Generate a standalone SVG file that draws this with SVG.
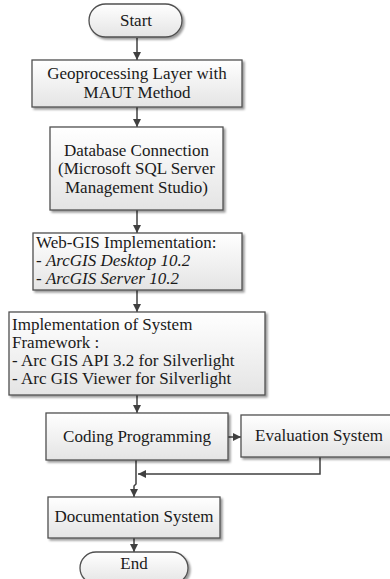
<svg xmlns="http://www.w3.org/2000/svg" width="390" height="579" viewBox="0 0 390 579">
<defs>
<linearGradient id="g" x1="0" y1="0" x2="0" y2="1">
<stop offset="0" stop-color="#ffffff"/>
<stop offset="1" stop-color="#e4e4e4"/>
</linearGradient>
<filter id="sh" x="-10%" y="-10%" width="130%" height="140%">
<feGaussianBlur in="SourceAlpha" stdDeviation="1"/>
<feOffset dx="2" dy="2" result="o"/>
<feComponentTransfer><feFuncA type="linear" slope="0.4"/></feComponentTransfer>
<feMerge><feMergeNode/><feMergeNode in="SourceGraphic"/></feMerge>
</filter>
<marker id="ah" markerWidth="8" markerHeight="8" refX="8" refY="4" orient="auto" markerUnits="userSpaceOnUse">
<path d="M0,0 L8,4 L0,8 Z" fill="#404040"/>
</marker>
</defs>
<style>
.b{fill:url(#g);stroke:#505050;stroke-width:1.3;filter:url(#sh)}
text{font-family:'Liberation Serif','Times New Roman','DejaVu Serif',serif;font-size:17px;fill:#1a1a1a}
.c{text-anchor:middle}
.i{font-style:italic}
.l{fill:none;stroke:#404040;stroke-width:1.5;marker-end:url(#ah)}
</style>
<g id="connectors">
<line class="l" x1="137" y1="38" x2="137" y2="60"/>
<line class="l" x1="137" y1="107" x2="137" y2="127"/>
<line class="l" x1="137" y1="210" x2="137" y2="233"/>
<line class="l" x1="137" y1="290" x2="137" y2="312"/>
<line class="l" x1="137" y1="395" x2="137" y2="413"/>
<line class="l" x1="228" y1="437" x2="241" y2="437"/>
<polyline class="l" points="320,457 320,474 138,474"/>
<polyline class="l" points="136,460 136,484 134,486 134,497"/>
<line class="l" x1="134" y1="538" x2="134" y2="552"/>
</g>
<g id="start">
<rect class="b" x="89" y="4" width="93" height="33" rx="16.5"/>
<text class="c" x="136" y="26">Start</text>
</g>
<g id="geoprocessing">
<rect class="b" x="32" y="60" width="210" height="47"/>
<text class="c" x="137" y="78.5">Geoprocessing Layer with</text>
<text class="c" x="137" y="97.5">MAUT Method</text>
</g>
<g id="database">
<rect class="b" x="50" y="127" width="173" height="83"/>
<text class="c" x="136.5" y="156">Database Connection</text>
<text class="c" x="136.5" y="174.3">(Microsoft SQL Server</text>
<text class="c" x="136.5" y="192.5">Management Studio)</text>
</g>
<g id="webgis">
<rect class="b" x="33" y="233" width="209" height="57"/>
<text x="36" y="248">Web-GIS Implementation:</text>
<text x="36" y="266">- <tspan class="i">ArcGIS Desktop 10.2</tspan></text>
<text x="36" y="284">- <tspan class="i">ArcGIS Server 10.2</tspan></text>
</g>
<g id="framework">
<rect class="b" x="9" y="312" width="256" height="83"/>
<text x="12" y="330">Implementation of System</text>
<text x="12" y="348">Framework :</text>
<text x="12" y="366">- Arc GIS API 3.2 for Silverlight</text>
<text x="12" y="384">- Arc GIS Viewer for Silverlight</text>
</g>
<g id="coding">
<rect class="b" x="46" y="413" width="182" height="47"/>
<text class="c" x="137" y="442">Coding Programming</text>
</g>
<g id="evaluation">
<rect class="b" x="241" y="415" width="160" height="42"/>
<text x="255" y="441">Evaluation System</text>
</g>
<g id="documentation">
<rect class="b" x="48" y="497" width="172" height="41"/>
<text class="c" x="134" y="522">Documentation System</text>
</g>
<g id="end">
<rect class="b" x="80" y="552" width="108" height="32" rx="16"/>
<text class="c" x="134" y="569">End</text>
</g>
</svg>
